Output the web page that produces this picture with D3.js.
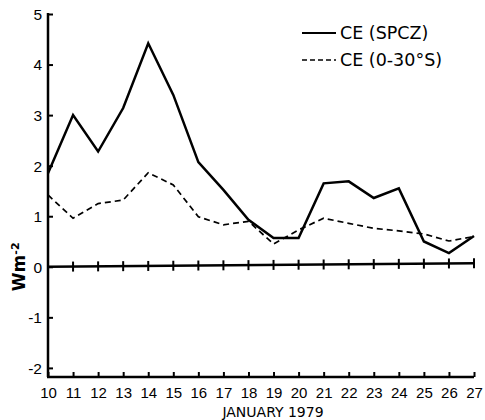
<!DOCTYPE html>
<html lang="en">
<head>
<meta charset="UTF-8">
<title>CE January 1979</title>
<script src="https://cdnjs.cloudflare.com/ajax/libs/d3/7.9.0/d3.min.js"></script>
<style>
  body{margin:0;background:#fff;}
  svg{display:block;font-family:"DejaVu Sans",sans-serif;}
</style>
</head>
<body>
<div id="chart"></div>
<script>
/* ---------- data ---------- */
const days = [10,11,12,13,14,15,16,17,18,19,20,21,22,23,24,25,26,27];
const ceSpcz = [1.85,3.0,2.28,3.14,4.42,3.4,2.07,1.52,0.93,0.57,0.57,1.65,1.69,1.36,1.55,0.5,0.27,0.61];
const ce030  = [1.42,0.96,1.25,1.32,1.86,1.62,0.99,0.83,0.9,0.45,0.73,0.96,0.86,0.76,0.71,0.65,0.51,0.6];
const yTicks = [-2,-1,0,1,2,3,4,5];
const seriesNames = ["CE (SPCZ)","CE (0-30°S)"];

const W = 485, H = 420;
const svg = d3.select("#chart").append("svg").attr("width",W).attr("height",H);

const x = d3.scaleLinear().domain([10,27]).range([48,474]);
const y = d3.scaleLinear().domain([-2.18,5]).range([377,14]);

// y axis (ticks inward)
const yAx = svg.append("g").attr("transform","translate(48,0)")
  .call(d3.axisRight(y).tickValues(yTicks).tickSize(5).tickFormat(d=>d));
yAx.select(".domain").attr("stroke-width",2.5).attr("d",`M0,${y(5)-1}V${y(-2.18)}`);
yAx.selectAll(".tick line").attr("stroke-width",2);
yAx.selectAll(".tick text").attr("x",-6).attr("text-anchor","end")
  .attr("font-size",15.5).attr("dy","0.35em");

// x axis (ticks inward, labels below)
const xAx = svg.append("g").attr("transform",`translate(0,${y(-2.18)})`)
  .call(d3.axisTop(x).tickValues(days).tickSize(5).tickFormat(d=>d));
xAx.select(".domain").attr("stroke-width",2.5).attr("d",`M47,0H${x(27)}`);
xAx.selectAll(".tick line").attr("stroke-width",2);
xAx.selectAll(".tick text").attr("y",10).attr("dy","0.71em").attr("font-size",15);

// zero line with day ticks
const zero = svg.append("g");
zero.append("line").attr("x1",x(10)).attr("x2",x(27))
  .attr("y1",y(0)).attr("y2",y(0.07)).attr("stroke","#000").attr("stroke-width",2.5);
zero.selectAll("line.t").data(days).enter().append("line").attr("class","t")
  .attr("x1",d=>x(d)).attr("x2",d=>x(d))
  .attr("y1",d=>y(0.07*(d-10)/17)-5).attr("y2",d=>y(0.07*(d-10)/17)+5)
  .attr("stroke","#000").attr("stroke-width",2);

// series
const line = d3.line().x((d,i)=>x(days[i])).y(d=>y(d));
svg.append("path").datum(ceSpcz).attr("d",line)
  .attr("fill","none").attr("stroke","#000").attr("stroke-width",2.5)
  .attr("stroke-linejoin","miter");
svg.append("path").datum(ce030).attr("d",line)
  .attr("fill","none").attr("stroke","#000").attr("stroke-width",1.7)
  .attr("stroke-dasharray","6,4");

// legend
const lg = svg.append("g");
lg.append("line").attr("x1",302).attr("x2",336).attr("y1",33).attr("y2",33)
  .attr("stroke","#000").attr("stroke-width",2);
lg.append("line").attr("x1",302).attr("x2",336).attr("y1",60).attr("y2",60)
  .attr("stroke","#000").attr("stroke-width",1.7).attr("stroke-dasharray","5,3");
lg.selectAll("text").data(seriesNames).enter().append("text")
  .attr("x",340).attr("y",(d,i)=>39+i*27).attr("font-size",17.5).text(d=>d);

// axis titles
svg.append("text").attr("x",273).attr("y",417).attr("text-anchor","middle")
  .attr("font-size",14).text("JANUARY  1979");
svg.append("text").attr("transform",`translate(25,${y(0)}) rotate(-90)`)
  .attr("text-anchor","middle").attr("font-size",17).attr("font-weight","bold")
  .html('Wm<tspan baseline-shift="super" font-size="11">-2</tspan>');
</script>
</body>
</html>
